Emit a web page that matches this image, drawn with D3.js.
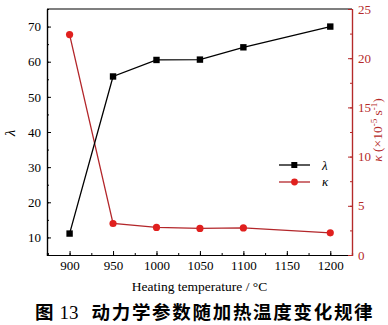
<!DOCTYPE html>
<html>
<head>
<meta charset="utf-8">
<script src="https://cdn.jsdelivr.net/npm/d3@7"></script>
<style>
  body { margin: 0; background: #fff; }
  svg { display: block; }
</style>
</head>
<body>
<div id="chart"></div>
<script>
const temps = [900, 950, 1000, 1050, 1100, 1200];
const lambdaVals = [11.1, 55.8, 60.5, 60.6, 64.1, 70.0];
const kappaVals = [22.4, 3.2, 2.8, 2.7, 2.75, 2.25];
const xTicks = [900, 950, 1000, 1050, 1100, 1150, 1200];
const lambdaTicks = [10, 20, 30, 40, 50, 60, 70];
const kappaTicks = [0, 5, 10, 15, 20, 25];

const W = 388, H = 325;
const m = { left: 47, right: 352, top: 9, bottom: 255 };
const serif = "Liberation Serif, DejaVu Serif, serif";
const axisRed = '#b52a2a';

const svg = d3.select('#chart').append('svg')
    .attr('width', W).attr('height', H);

const x = d3.scaleLinear().domain([874, 1225]).range([m.left, m.right]);
const yL = d3.scaleLinear().domain([5, 75]).range([m.bottom, m.top]);
const yR = d3.scaleLinear().domain([0, 25]).range([m.bottom, m.top]);

// frame top line
svg.append('line')
    .attr('x1', m.left).attr('x2', m.right).attr('y1', m.top).attr('y2', m.top)
    .attr('stroke', '#000').attr('stroke-width', 1.2);

function styleAxis(g, color) {
    g.attr('font-family', serif).attr('font-size', 13);
    g.select('.domain').attr('stroke', color).attr('stroke-width', 1.2);
    g.selectAll('line').attr('stroke', color);
    g.selectAll('text').attr('fill', color);
}

const fmt = d3.format('d');

// bottom axis
svg.append('g').attr('transform', `translate(0,${m.bottom})`)
    .call(d3.axisBottom(x).tickValues(d3.range(875, 1226, 25)).tickSize(-2).tickFormat(''))
    .call(g => styleAxis(g, '#000'));
svg.append('g').attr('transform', `translate(0,${m.bottom})`)
    .call(d3.axisBottom(x).tickValues(xTicks).tickFormat(fmt).tickSizeInner(-4).tickSizeOuter(0).tickPadding(6))
    .call(g => styleAxis(g, '#000'));

// left axis
svg.append('g').attr('transform', `translate(${m.left},0)`)
    .call(d3.axisLeft(yL).tickValues(d3.range(5, 76, 5)).tickSize(-2).tickFormat(''))
    .call(g => styleAxis(g, '#000'));
svg.append('g').attr('transform', `translate(${m.left},0)`)
    .call(d3.axisLeft(yL).tickValues(lambdaTicks).tickFormat(fmt).tickSizeInner(-4).tickSizeOuter(0).tickPadding(6))
    .call(g => styleAxis(g, '#000'));

// right axis
svg.append('g').attr('transform', `translate(${m.right},0)`)
    .call(d3.axisRight(yR).tickValues(d3.range(0, 25.1, 2.5)).tickSize(-2).tickFormat(''))
    .call(g => styleAxis(g, axisRed));
svg.append('g').attr('transform', `translate(${m.right},0)`)
    .call(d3.axisRight(yR).tickValues(kappaTicks).tickFormat(fmt).tickSizeInner(-4).tickSizeOuter(0).tickPadding(6))
    .call(g => styleAxis(g, axisRed));

// kappa series
const kData = temps.map((t, i) => [t, kappaVals[i]]);
svg.append('path').datum(kData)
    .attr('fill', 'none').attr('stroke', '#b3262a').attr('stroke-width', 1.3)
    .attr('d', d3.line().x(d => x(d[0])).y(d => yR(d[1])));
svg.selectAll('.kpt').data(kData).enter().append('circle')
    .attr('cx', d => x(d[0])).attr('cy', d => yR(d[1])).attr('r', 3.6)
    .attr('fill', '#e0201e');

// lambda series
const lData = temps.map((t, i) => [t, lambdaVals[i]]);
svg.append('path').datum(lData)
    .attr('fill', 'none').attr('stroke', '#000').attr('stroke-width', 1.3)
    .attr('d', d3.line().x(d => x(d[0])).y(d => yL(d[1])));
svg.selectAll('.lpt').data(lData).enter().append('rect')
    .attr('x', d => x(d[0]) - 3.2).attr('y', d => yL(d[1]) - 3.2)
    .attr('width', 6.4).attr('height', 6.4).attr('fill', '#000');

// legend
const leg = svg.append('g').attr('transform', 'translate(279,165)')
    .attr('font-family', serif).attr('font-size', 13).attr('font-style', 'italic');
leg.append('line').attr('x1', 0).attr('x2', 31).attr('stroke', '#000').attr('stroke-width', 1.3);
leg.append('rect').attr('x', 12.3).attr('y', -3).attr('width', 6).attr('height', 6).attr('fill', '#000');
leg.append('text').attr('x', 43).attr('y', 5).text('λ');
leg.append('line').attr('x1', 0).attr('x2', 31).attr('y1', 17).attr('y2', 17)
    .attr('stroke', '#b3262a').attr('stroke-width', 1.3);
leg.append('circle').attr('cx', 15.5).attr('cy', 17).attr('r', 3.4).attr('fill', '#e0201e');
leg.append('text').attr('x', 43).attr('y', 21).text('κ');

// axis titles
svg.append('text').attr('x', (m.left + m.right) / 2).attr('y', 291)
    .attr('text-anchor', 'middle').text('Heating temperature / °C')
    .attr('font-family', serif).attr('font-size', 13.5);
svg.append('text').attr('transform', 'translate(15,133) rotate(-90)')
    .attr('text-anchor', 'middle').text('λ')
    .attr('font-family', serif).attr('font-style', 'italic').attr('font-size', 15);
const rLab = svg.append('text').attr('transform', 'translate(382,130) rotate(-90)')
    .attr('text-anchor', 'middle').attr('fill', axisRed)
    .attr('font-family', serif).attr('font-size', 13.5);
rLab.append('tspan').text('κ').attr('font-style', 'italic');
rLab.append('tspan').text(' (×10');
rLab.append('tspan').text('-5').attr('dy', -5).attr('font-size', 9);
rLab.append('tspan').text(' s').attr('dy', 5);
rLab.append('tspan').text('-1').attr('dy', -5).attr('font-size', 9);
rLab.append('tspan').text(')').attr('dy', 5);

// caption
const cap = svg.append('text').attr('x', 35).attr('y', 319)
    .attr('font-family', "Noto Sans CJK SC, sans-serif").attr('font-size', 18.5)
    .attr('font-weight', 'bold');
cap.append('tspan').text('图');
cap.append('tspan').attr('dx', 6).text('13')
    .attr('font-family', serif).attr('font-weight', 'normal').attr('font-size', 19);
cap.append('tspan').attr('dx', 13).attr('letter-spacing', 1.7).text('动力学参数随加热温度变化规律');
</script>
</body>
</html>
